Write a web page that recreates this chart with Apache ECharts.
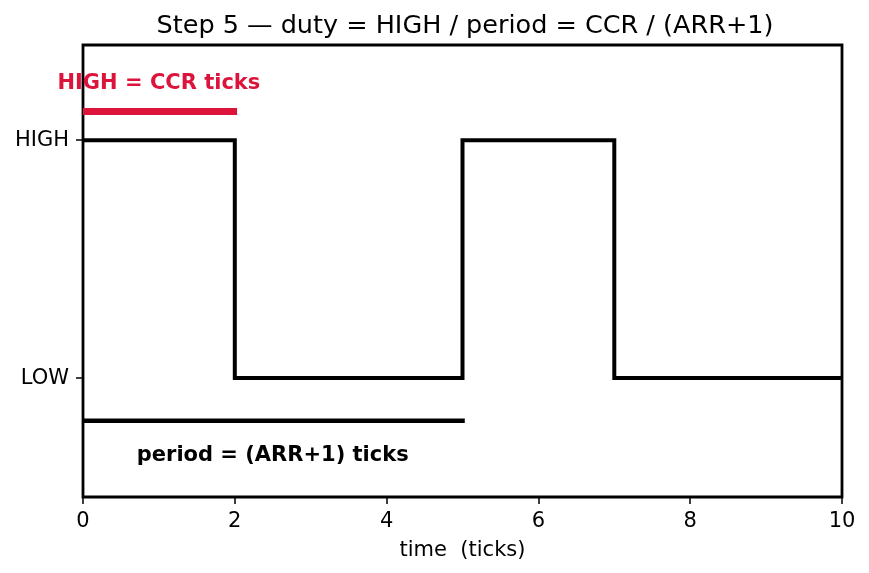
<!DOCTYPE html>
<html>
<head>
	<meta charset="utf-8">
	<title>Step 5 — duty</title>
	<script src="https://cdn.jsdelivr.net/npm/echarts@6/dist/echarts.min.js"></script>
	<style>
		html, body { margin: 0; padding: 0; background: #fff; }
	</style>
</head>
<body>
	<div id="main" style="width: 869px; height: 573px;"></div>
	<script type="text/javascript">
		// signal: level holds from each time until the next one
		var times = [0, 2, 5, 7, 10];
		var levels = [1, 0, 1, 0, 0];
		var levelNames = { 0: 'LOW', 1: 'HIGH' };
		var xTicks = [0, 2, 4, 6, 8, 10];

		// annotation bars
		var highBar = [[0, 1.12], [2.03, 1.12]];
		var periodBar = [[0, -0.18], [5.03, -0.18]];
		var highText = [1.0, 1.237];
		var periodText = [2.5, -0.324];

		var FONT = 'DejaVu Sans';
		var chart = echarts.init(document.getElementById('main'));

		var signal = [];
		for (var i = 0; i < times.length; i++) {
			signal.push([times[i], levels[i]]);
		}

		var option = {
			backgroundColor: '#fff',
			animation: false,
			title: {
				text: 'Step 5 — duty = HIGH / period = CCR / (ARR+1)',
				left: 460,
				textAlign: 'center',
				top: 8,
				textStyle: {
					color: '#000',
					fontSize: 25.5,
					fontWeight: 'normal',
					fontFamily: FONT
				}
			},
			grid: {
				left: 83,
				right: 27,
				top: 45,
				bottom: 76,
				show: true,
				borderColor: '#000',
				borderWidth: 2.8,
				backgroundColor: 'transparent'
			},
			xAxis: {
				type: 'value',
				min: 0,
				max: 10,
				interval: 2,
				name: 'time  (ticks)',
				nameLocation: 'middle',
				nameGap: 43,
				nameTextStyle: { color: '#000', fontSize: 21, fontFamily: FONT },
				axisLine: { show: false, onZero: false },
				splitLine: { show: false },
				axisTick: { show: true, length: 7, lineStyle: { color: '#000', width: 1.5 } },
				axisLabel: {
					color: '#000', fontSize: 21, fontFamily: FONT, margin: 14,
					customValues: xTicks
				}
			},
			yAxis: {
				type: 'value',
				min: -0.5,
				max: 1.4,
				axisLine: { show: false, onZero: false },
				splitLine: { show: false },
				axisTick: {
					show: true, length: 7, customValues: [0, 1],
					lineStyle: { color: '#000', width: 1.5 }
				},
				axisLabel: {
					color: '#000', fontSize: 21, fontFamily: FONT, margin: 14,
					customValues: [0, 1],
					formatter: function (v) { return levelNames[v] || ''; }
				}
			},
			series: [{
				name: 'signal',
				type: 'line',
				step: 'end',
				data: signal,
				symbol: 'none',
				lineStyle: { color: '#000', width: 4, join: 'miter' },
				z: 3
			}, {
				name: 'high',
				type: 'line',
				data: highBar,
				symbol: 'none',
				lineStyle: { color: '#dc143c', width: 7, cap: 'butt' },
				z: 2
			}, {
				name: 'period',
				type: 'line',
				data: periodBar,
				symbol: 'none',
				lineStyle: { color: '#000', width: 4.5, cap: 'butt' },
				z: 2
			}, {
				name: 'labels',
				type: 'scatter',
				symbolSize: 0,
				silent: true,
				itemStyle: { opacity: 1 },
				data: [{
					value: highText,
					label: {
						show: true, position: 'inside', formatter: 'HIGH = CCR ticks',
						color: '#dc143c', fontSize: 21, fontWeight: 'bold', fontFamily: FONT
					}
				}, {
					value: periodText,
					label: {
						show: true, position: 'inside', formatter: 'period = (ARR+1) ticks',
						color: '#000', fontSize: 21, fontWeight: 'bold', fontFamily: FONT
					}
				}],
				z: 4
			}]
		};
		chart.setOption(option);
	</script>
</body>
</html>
